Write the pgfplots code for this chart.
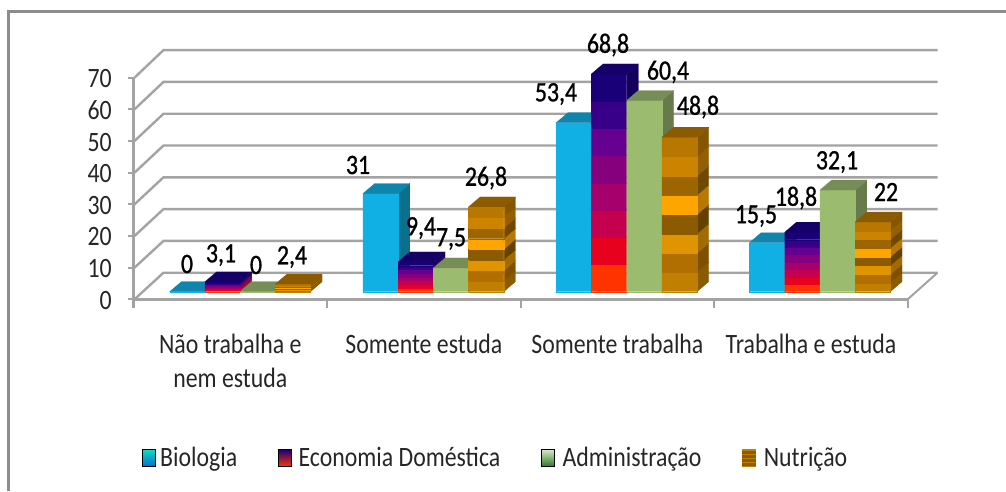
\documentclass[border=0pt]{standalone}
\usepackage{fontspec}
\usepackage{pgfplots}
\usepackage{pgfplotstable}
\pgfplotsset{compat=1.18}
\setmainfont[FakeStretch=0.85]{Carlito}
\newfontfamily\valfont[FakeStretch=0.85,FakeBold=1]{Carlito}
\newcommand\bigf{\fontsize{28}{34}\selectfont}

\pgfplotstableread{
g v
0 0
1 31
2 53.4
3 15.5
}\biologia
\pgfplotstableread{
g v
0 3.1
1 9.4
2 68.8
3 18.8
}\economia
\pgfplotstableread{
g v
0 0
1 7.5
2 60.4
3 32.1
}\administracao
\pgfplotstableread{
g v
0 2.4
1 26.8
2 48.8
3 22
}\nutricao

\definecolor{bluF}{HTML}{10B0E4}\definecolor{bluT}{HTML}{0F85AE}\definecolor{bluS}{HTML}{0B6F8E}
\definecolor{greF}{HTML}{9BBB6E}\definecolor{greT}{HTML}{768D58}\definecolor{greS}{HTML}{667A4C}
\definecolor{ecoT}{HTML}{140066}\definecolor{nutT}{HTML}{8C5A00}
\definecolor{eco0}{HTML}{FF3300}\definecolor{eco1}{HTML}{E8001F}\definecolor{eco2}{HTML}{C4004F}
\definecolor{eco3}{HTML}{A5006B}\definecolor{eco4}{HTML}{86007E}\definecolor{eco5}{HTML}{660090}
\definecolor{eco6}{HTML}{380088}\definecolor{eco7}{HTML}{1A0078}
\definecolor{nut0}{HTML}{C07F00}\definecolor{nut1}{HTML}{B06F00}\definecolor{nut2}{HTML}{E09400}
\definecolor{nut3}{HTML}{8C5A00}\definecolor{nut4}{HTML}{FFA500}\definecolor{nut5}{HTML}{9C6500}
\definecolor{nut6}{HTML}{CC8400}\definecolor{nut7}{HTML}{B87800}
\definecolor{lgBa}{HTML}{17D9C0}\definecolor{lgBb}{HTML}{0070D0}
\definecolor{lgGa}{HTML}{DCE8CC}\definecolor{lgGb}{HTML}{2A7A20}
\colorlet{ecoS0}{eco0!75!black}\colorlet{ecoS1}{eco1!75!black}\colorlet{ecoS2}{eco2!75!black}\colorlet{ecoS3}{eco3!75!black}
\colorlet{ecoS4}{eco4!75!black}\colorlet{ecoS5}{eco5!75!black}\colorlet{ecoS6}{eco6!75!black}\colorlet{ecoS7}{eco7!75!black}
\colorlet{nutS0}{nut0!72!black}\colorlet{nutS1}{nut1!72!black}\colorlet{nutS2}{nut2!72!black}\colorlet{nutS3}{nut3!72!black}
\colorlet{nutS4}{nut4!72!black}\colorlet{nutS5}{nut5!72!black}\colorlet{nutS6}{nut6!72!black}\colorlet{nutS7}{nut7!72!black}
\colorlet{gridc}{black!36}

% geometry in axis units: x = one category, y = one value unit
\def\bw{0.1819}\def\dx{0.0605}\def\dy{3.16}\def\base{2.4}

\newcommand\Quad[9]{%
  \edef\tmp{\noexpand\addplot[fill=#1,draw=#1,line width=0.2pt,forget plot]
    coordinates {(#2,#3)(#4,#5)(#6,#7)(#8,#9)(#2,#3)};}\tmp}

% #1 x0, #2 value low, #3 value high, #4 front colour, #5 side colour
\newcommand\Block[5]{%
  \pgfmathsetmacro\xa{#1}\pgfmathsetmacro\xb{#1+\bw}\pgfmathsetmacro\xc{#1+\bw+\dx}%
  \pgfmathsetmacro\ya{\base+#2}\pgfmathsetmacro\yb{\base+#3}%
  \pgfmathsetmacro\yc{\base+#2+\dy}\pgfmathsetmacro\yd{\base+#3+\dy}%
  \Quad{#5}{\xb}{\ya}{\xc}{\yc}{\xc}{\yd}{\xb}{\yb}%
  \Quad{#4}{\xa}{\ya}{\xb}{\ya}{\xb}{\yb}{\xa}{\yb}}
\newcommand\Top[3]{% x0, value, colour
  \pgfmathsetmacro\xa{#1}\pgfmathsetmacro\xb{#1+\bw}\pgfmathsetmacro\xc{#1+\bw+\dx}\pgfmathsetmacro\xd{#1+\dx}%
  \pgfmathsetmacro\yb{\base+#2}\pgfmathsetmacro\yd{\base+#2+\dy}%
  \Quad{#3}{\xa}{\yb}{\xb}{\yb}{\xc}{\yd}{\xd}{\yd}}
% #1 x0, #2 value, #3 band prefix, #4 top colour
\newcommand\Banded[4]{%
  \pgfplotsforeachungrouped \b in {0,...,7}{%
    \pgfmathsetmacro\lo{#2*\b/8}\pgfmathsetmacro\hi{#2*(\b+1)/8}%
    \edef\fc{#3\b}\edef\sc{#3S\b}%
    \Block{#1}{\lo}{\hi}{\fc}{\sc}}%
  \Top{#1}{#2}{#4}}

\begin{document}
\begin{tikzpicture}[x=1pt,y=1pt]
\path[use as bounding box] (0,0) rectangle (1006,-491);
% outer frame
\draw[black!45,line width=3pt] (8.5,-491) -- (8.5,-11.5) -- (1006,-11.5);
% 3-D walls and floor
\foreach \v in {0,10,...,70}{
  \pgfmathsetmacro\yf{-299.3+3.166*\v}\pgfmathsetmacro\yb{-272.7+3.18*\v}
  \draw[gridc,line width=2.4pt] (134.5,\yf) -- (163.5,\yb) -- (937.5,\yb);
}
\draw[gridc,line width=2pt] (907.7,-299.3) -- (937.5,-272.7);

\begin{axis}[
  at={(133.5pt,-299.3pt)},anchor=origin,
  scale only axis,width=774.2pt,height=221.6pt,
  xmin=0,xmax=4,ymin=0,ymax=70,clip=false,
  axis x line=bottom,axis y line=left,
  axis line style={-,gridc,line width=2.4pt},
  xtick={0,1,2,3,4},ytick={0,10,...,70},
  x tick label as interval,
  xticklabels={{Não trabalha e\\nem estuda},{Somente estuda},{Somente trabalha},{Trabalha e estuda}},
  tick align=outside,
  xtick style={gridc,line width=2.2pt,/pgfplots/major tick length=9pt},
  ytick style={gridc,line width=2.2pt,/pgfplots/major tick length=6pt},
  /pgf/number format/assume math mode=true,
  ticklabel style={font=\bigf,text=black!85},
  xticklabel style={align=center,yshift=-27pt},
  yticklabel style={xshift=-14pt,yshift=-1pt},
  legend style={at={(axis cs:0.042,-50.1)},anchor=west,draw=none,fill=none,inner sep=0pt,
    font=\bigf,text=black!85,legend columns=4,
    /tikz/every even column/.append style={column sep=39pt},
    /tikz/every odd column/.append style={column sep=3pt}},
  legend cell align=left,
]
\pgfplotsforeachungrouped \g in {0,1,2,3}{%
  \pgfmathsetmacro\xz{0.1865+\g*0.9987}%
  \pgfplotstablegetelem{\g}{v}\of\biologia\edef\vv{\pgfplotsretval}%
  \pgfmathsetmacro\xs{\xz}\Block{\xs}{0}{\vv}{bluF}{bluS}\Top{\xs}{\vv}{bluT}%
  \pgfplotstablegetelem{\g}{v}\of\economia\edef\vv{\pgfplotsretval}%
  \pgfmathsetmacro\xs{\xz+\bw}\Banded{\xs}{\vv}{eco}{ecoT}%
  \pgfplotstablegetelem{\g}{v}\of\administracao\edef\vv{\pgfplotsretval}%
  \pgfmathsetmacro\xs{\xz+2*\bw}\Block{\xs}{0}{\vv}{greF}{greS}\Top{\xs}{\vv}{greT}%
  \pgfplotstablegetelem{\g}{v}\of\nutricao\edef\vv{\pgfplotsretval}%
  \pgfmathsetmacro\xs{\xz+3*\bw}\Banded{\xs}{\vv}{nut}{nutT}%
}
\addlegendimage{legend image code/.code={\shade[top color=lgBa,bottom color=lgBb] (0pt,-8.5pt) rectangle (13pt,8.5pt);}}
\addlegendentry{Biologia}
\addlegendimage{legend image code/.code={\shade[top color=eco7,middle color=eco3,bottom color=eco0] (0pt,-8.5pt) rectangle (13pt,8.5pt);}}
\addlegendentry{\hspace{2pt}Economia Doméstica\hspace{2pt}}
\addlegendimage{legend image code/.code={\shade[top color=lgGa,bottom color=lgGb] (0pt,-8.5pt) rectangle (13pt,8.5pt);}}
\addlegendentry{\hspace{3pt}Administração}
\addlegendimage{legend image code/.code={\fill[nut0] (0pt,-8.5pt) rectangle (13pt,8.5pt);
  \foreach \s in {-7,-3,1,5}{\fill[nut3] (0pt,\s pt) rectangle (13pt,\s pt+1.6pt);}}}
\addlegendentry{\hspace{3pt}Nutrição}
\end{axis}
% data labels
\tikzset{val/.style={font=\valfont\fontsize{28}{30}\selectfont,text=black,inner sep=0pt}}
\node[val] at (187,-264) {0};
\node[val] at (221,-255) {3,1};
\node[val] at (256,-265) {0};
\node[val] at (292,-257) {2,4};
\node[val] at (358,-165) {31};
\node[val] at (421,-228) {9,4};
\node[val] at (451,-239) {7,5};
\node[val] at (486,-178) {26,8};
\node[val] at (556,-94) {53,4};
\node[val] at (608,-45) {68,8};
\node[val] at (668,-72) {60,4};
\node[val] at (698,-107) {48,8};
\node[val] at (756,-216) {15,5};
\node[val] at (796,-198) {18,8};
\node[val] at (837,-162) {32,1};
\node[val] at (886,-192) {22};
\end{tikzpicture}
\end{document}
